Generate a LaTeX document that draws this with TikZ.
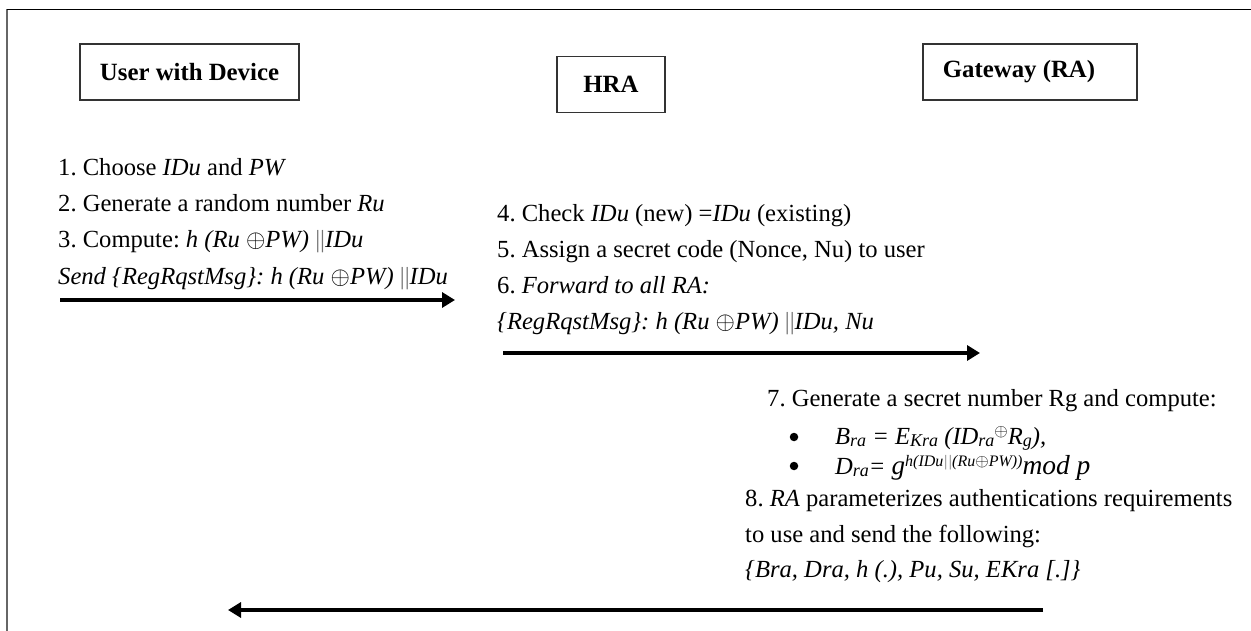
\documentclass[tikz,border=0pt]{standalone}
\usepackage{fontspec}
\setmainfont{Liberation Serif}
\usetikzlibrary{arrows.meta}
\newcommand{\sbs}[1]{\raisebox{-2.5pt}{\fontsize{18}{18}\selectfont #1}}
\newcommand{\sps}[1]{\raisebox{7.5pt}{\fontsize{16}{16}\selectfont #1}}
\newcommand{\xo}{$\oplus$}
\newcommand{\bb}{\textcolor{black!55}{||}}
\begin{document}
\frenchspacing
\begin{tikzpicture}[x=1pt,y=-1pt,
  txt/.style={anchor=base west,inner sep=0pt,font=\fontsize{24.6}{28}\selectfont},
  hdr/.style={draw=black!80,line width=1.3pt,minimum height=56pt,font=\fontsize{24.8}{28}\selectfont\bfseries,inner sep=0pt},
  bul/.style={circle,fill=black,inner sep=0pt,minimum size=8.5pt},
  msg/.style={line width=3.8pt,-{Triangle[length=13pt,width=15pt]}}]
\useasboundingbox (0,0) rectangle (1251,631);
\draw[black!60,line width=1.3pt] (7,631) -- (7,9.5);
\draw[black,line width=1.2pt] (7,9.5) -- (1251,9.5);
% headers
\node[hdr,minimum width=219pt] (user) at (189.5,72) {User with Device};
\node[hdr,minimum width=108pt] (hra) at (611,84.5) {HRA};
\node[hdr,minimum width=214pt] (gw) at (1030,72) {};
\node[inner sep=0pt,font=\fontsize{24.8}{28}\selectfont\bfseries] (gwt) at (1019,72) {Gateway (RA)};
% user column
\node[txt] (u1) at (58,176) {1. Choose \textit{IDu} and \textit{PW}};
\node[txt] (u2) at (58,212) {2. Generate a random number \textit{Ru}};
\node[txt] (u3) at (58,248) {3. Compute: \textit{h (Ru \xo PW) }\bb\textit{IDu}};
\node[txt] (u4) at (58,284) {\textit{Send \{RegRqstMsg\}: h (Ru \xo PW) }\bb\textit{IDu}};
\coordinate (a1s) at (60,300);
\coordinate (a1e) at (455,300);
\draw[msg] (a1s) -- (a1e);
% HRA column
\node[txt] (h1) at (497,222) {4. Check \textit{IDu} (new) =\textit{IDu} (existing)};
\node[txt] (h2) at (497,258) {5. Assign a secret code (Nonce, Nu) to user};
\node[txt] (h3) at (497,294) {6. \textit{Forward to all RA:}};
\node[txt] (h4) at (497,330) {\textit{\{RegRqstMsg\}: h (Ru \xo PW) }\bb\textit{IDu, Nu}};
\coordinate (a2s) at (503,353);
\coordinate (a2e) at (980,353);
\draw[msg] (a2s) -- (a2e);
% Gateway column
\node[txt] (g1) at (767,406) {7. Generate a secret number Rg and compute:};
\node[bul] (b1) at (794,437) {};
\node[txt] (g2) at (835,444) {\textit{B\sbs{ra} = E\sbs{Kra} (ID\sbs{ra}\sps{\xo}R\sbs{g}),}};
\node[bul] (b2) at (794,466) {};
\node[txt] (g3) at (835,474) {\itshape D\sbs{ra}= {\fontsize{27}{27}\selectfont\itshape g}\sps{h(IDu\bb(Ru\xo PW))}{\fontsize{27.5}{28}\selectfont\itshape mod p}};
\node[txt] (g4) at (745,506) {8. \textit{RA} parameterizes authentications requirements};
\node[txt] (g5) at (745,542) {to use and send the following:};
\node[txt] (g6) at (745,577) {\textit{\{Bra, Dra, h (.), Pu, Su, EKra [.]\}}};
\coordinate (a3s) at (1043,610);
\coordinate (a3e) at (228,610);
\draw[msg] (a3s) -- (a3e);
\end{tikzpicture}
\end{document}
